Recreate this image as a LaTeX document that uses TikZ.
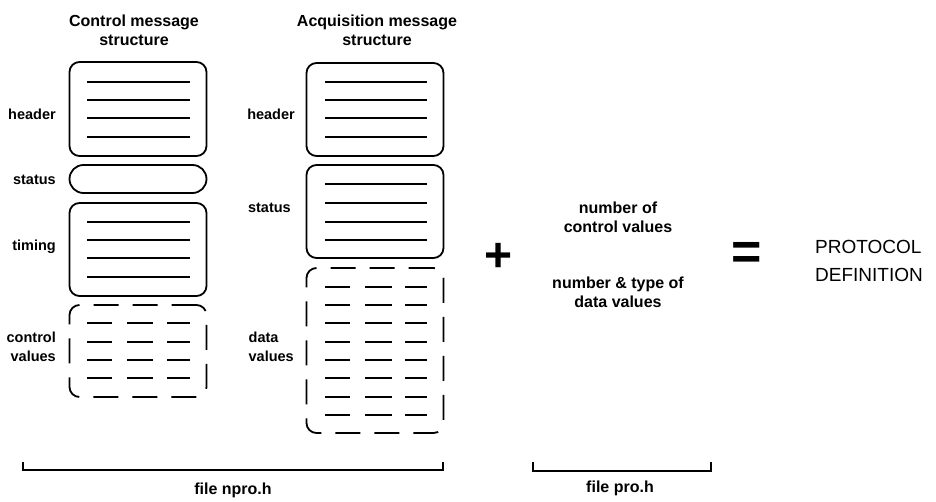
\documentclass[tikz,border=0pt]{standalone}
\usepackage{fontspec}
\setmainfont{Liberation Sans}
\usetikzlibrary{positioning}

\begin{document}
\begin{tikzpicture}[x=1pt, y=-1pt]
  \tikzstyle{msgbox}=[rectangle, rounded corners=10pt, draw, line width=1.8pt, minimum width=137pt, inner sep=0pt]
  \tikzstyle{valbox}=[msgbox, dash pattern=on 25pt off 14pt]
  \tikzstyle{field}=[line width=1.9pt]
  \tikzstyle{lbl}=[font=\fontsize{14.5}{19}\selectfont\bfseries, align=right, inner sep=0pt]
  \tikzstyle{ttl}=[font=\fontsize{16}{19}\selectfont\bfseries, align=center, inner sep=0pt]
  \tikzstyle{bracket}=[line width=1.8pt]
  \useasboundingbox (0,0) rectangle (936,502);

  % control message
  \node[ttl] (ctlttl) at (134,30) {Control message\\structure};
  \node[msgbox, minimum height=94pt] (ctlhdr) at (138,109) {};
  \node[msgbox, minimum height=28pt, rounded corners=14pt] (ctlstat) at (138,179) {};
  \node[msgbox, minimum height=93pt] (ctltim) at (138,249.5) {};
  \node[valbox, minimum height=92pt] (ctlval) at (138,351) {};
  \node[lbl, anchor=east] (ctlhdrlbl) at (56,114) {header};
  \node[lbl, anchor=east] (ctlstatlbl) at (56,180) {status};
  \node[lbl, anchor=east] (ctltimlbl) at (56,247) {timing};
  \node[lbl, anchor=east] (ctlvallbl) at (56,347) {control\\values};

  % acquisition message
  \node[ttl] (acqttl) at (377,30) {Acquisition message\\structure};
  \node[msgbox, minimum height=93pt] (acqhdr) at (375,109.5) {};
  \node[msgbox, minimum height=93pt] (acqstat) at (375,211.5) {};
  \node[valbox, minimum height=165pt] (acqval) at (375,350.5) {};
  \node[lbl, anchor=east] (acqhdrlbl) at (295,114) {header};
  \node[lbl, anchor=east] (acqstatlbl) at (291,208) {status};
  \node[lbl, anchor=east, align=left] (acqvallbl) at (294,347) {data\\values};

  % fields
  \foreach \row in {82,100,118,137} {
    \draw[field] (87,\row) -- (190,\row);
    \draw[field] (325,\row) -- (427,\row);
  }
  \foreach \row in {222,240,258,277} \draw[field] (87,\row) -- (190,\row);
  \foreach \row in {184,203,222,240} \draw[field] (325,\row) -- (427,\row);
  \foreach \row in {323,342,360,378}
    \foreach \a/\b in {87/112,127/153,167/190} \draw[field] (\a,\row) -- (\b,\row);
  \foreach \row in {287,305,323,342,360,378,397,415}
    \foreach \a/\b in {325/350,365/392,405/427} \draw[field] (\a,\row) -- (\b,\row);

  % parameters and result
  \node[font=\fontsize{48}{48}\selectfont\bfseries] (plus) at (499,257) {+};
  \node[ttl] (nctl) at (618,217.5) {number of\\control values};
  \node[ttl] (ndata) at (618,292.5) {number \& type of\\data values};
  \node[font=\fontsize{52}{52}\selectfont\bfseries] (eq) at (747,256) {=};
  \node[font=\fontsize{19}{28}\selectfont, align=left, anchor=west, inner sep=0pt] (proto) at (815,261) {PROTOCOL\\DEFINITION};

  % files
  \coordinate (nproL) at (23,462);
  \coordinate (nproR) at (443,462);
  \draw[bracket] (nproL) -- ++(0,8) -| (nproR);
  \node[ttl] (nprolbl) at (233,490) {file npro.h};
  \coordinate (proL) at (533,462);
  \coordinate (proR) at (711,462);
  \draw[bracket] (proL) -- ++(0,9) -| (proR);
  \node[ttl] (prolbl) at (620,488) {file pro.h};
\end{tikzpicture}
\end{document}
